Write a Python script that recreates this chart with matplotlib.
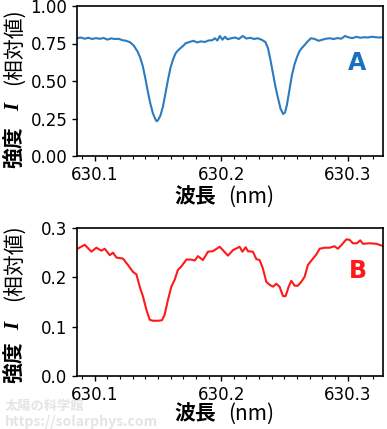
import matplotlib
matplotlib.use("Agg")
import matplotlib.pyplot as plt
from matplotlib.ticker import MultipleLocator

# --- spectrum A (top panel) ---
wl_a = [630.086, 630.089, 630.092, 630.095, 630.098, 630.101, 630.104, 630.107,
        630.110, 630.113, 630.116, 630.119, 630.122, 630.125, 630.128, 630.131,
        630.134, 630.136, 630.138, 630.140, 630.142, 630.144, 630.146, 630.148,
        630.149, 630.150, 630.152, 630.154, 630.156, 630.158, 630.160, 630.162,
        630.164, 630.166, 630.168, 630.170, 630.172, 630.175, 630.178, 630.181,
        630.184, 630.187, 630.190, 630.193, 630.195, 630.197, 630.199, 630.201,
        630.203, 630.205, 630.208, 630.211, 630.214, 630.217, 630.220, 630.223,
        630.226, 630.229, 630.232, 630.235, 630.237, 630.239, 630.241, 630.243,
        630.245, 630.247, 630.249, 630.2505, 630.252, 630.254, 630.256, 630.258,
        630.260, 630.262, 630.264, 630.266, 630.268, 630.271, 630.274, 630.277,
        630.280, 630.283, 630.286, 630.289, 630.292, 630.295, 630.298, 630.301,
        630.304, 630.307, 630.310, 630.313, 630.316, 630.319, 630.322, 630.325,
        630.328]
int_a = [0.785, 0.790, 0.782, 0.788, 0.780, 0.786, 0.781, 0.787,
         0.776, 0.784, 0.780, 0.781, 0.772, 0.768, 0.758, 0.735,
         0.695, 0.655, 0.600, 0.520, 0.430, 0.350, 0.285, 0.245,
         0.232, 0.238, 0.270, 0.330, 0.420, 0.510, 0.590, 0.645,
         0.685, 0.705, 0.720, 0.735, 0.752, 0.760, 0.768, 0.757,
         0.764, 0.760, 0.770, 0.772, 0.785, 0.770, 0.800, 0.775,
         0.795, 0.778, 0.785, 0.790, 0.780, 0.800, 0.783, 0.788,
         0.780, 0.785, 0.775, 0.760, 0.720, 0.640, 0.550, 0.460,
         0.385, 0.315, 0.280, 0.290, 0.340, 0.440, 0.540, 0.610,
         0.660, 0.700, 0.722, 0.740, 0.760, 0.785, 0.780, 0.768,
         0.775, 0.782, 0.785, 0.780, 0.786, 0.782, 0.800, 0.790,
         0.786, 0.795, 0.788, 0.792, 0.790, 0.795, 0.792, 0.790,
         0.792]

# --- spectrum B (bottom panel) ---
wl_b = [630.0858, 630.0921, 630.0974, 630.1013, 630.1053, 630.1079, 630.1119,
        630.1145, 630.1172, 630.1224, 630.1263, 630.1303, 630.1330, 630.1356,
        630.1382, 630.1409, 630.1435, 630.1460, 630.1500, 630.1532, 630.1553,
        630.1579, 630.1606, 630.1632, 630.1658, 630.1685, 630.1725, 630.1764,
        630.1791, 630.1817, 630.1856, 630.1896, 630.1935, 630.1988, 630.2014,
        630.2054, 630.2093, 630.2146, 630.2168, 630.2194, 630.2212, 630.2251,
        630.2278, 630.2304, 630.2330, 630.2357, 630.2383, 630.2410, 630.2436,
        630.2462, 630.2489, 630.2510, 630.2534, 630.2555, 630.2581, 630.2607,
        630.2634, 630.2660, 630.2686, 630.2726, 630.2752, 630.2779, 630.2818,
        630.2858, 630.2897, 630.2923, 630.2950, 630.2990, 630.3016, 630.3042,
        630.3074, 630.3100, 630.3121, 630.3174, 630.3227, 630.3274]
int_b = [0.257, 0.266, 0.252, 0.260, 0.254, 0.258, 0.245,
         0.250, 0.240, 0.238, 0.225, 0.211, 0.206, 0.181,
         0.161, 0.134, 0.114, 0.112, 0.112, 0.113, 0.124,
         0.154, 0.181, 0.195, 0.215, 0.222, 0.236, 0.236,
         0.234, 0.243, 0.235, 0.252, 0.253, 0.262, 0.255,
         0.244, 0.255, 0.262, 0.252, 0.261, 0.253, 0.252,
         0.237, 0.235, 0.218, 0.191, 0.185, 0.181, 0.187,
         0.181, 0.162, 0.162, 0.181, 0.193, 0.183, 0.183,
         0.191, 0.201, 0.225, 0.238, 0.246, 0.258, 0.260,
         0.260, 0.263, 0.258, 0.265, 0.277, 0.276, 0.269,
         0.269, 0.275, 0.268, 0.269, 0.268, 0.264]

W, H = 387, 429
fig = plt.figure(figsize=(W / 100, H / 100), dpi=100)
jp = ['Noto Sans CJK JP', 'DejaVu Sans']


def ftext(x, y, s, **kw):
    """Place text at pixel position (x, y) measured from the top-left corner."""
    fig.text(x / W, 1 - y / H, s, ha='center', va='center', **kw)


def setup_axes(ax, ylim, ystep):
    ax.set_xlim(630.086, 630.328)
    ax.set_ylim(*ylim)
    ax.xaxis.set_major_locator(MultipleLocator(0.1))
    ax.xaxis.set_minor_locator(MultipleLocator(0.01))
    ax.yaxis.set_major_locator(MultipleLocator(ystep))
    ax.tick_params(which='major', direction='out', length=3.5, width=1, labelsize=12)
    ax.tick_params(which='minor', direction='out', length=2, width=0.8)
    for sp in ax.spines.values():
        sp.set_linewidth(1.2)


ax1 = fig.add_axes([77 / W, 1 - 156 / H, 306 / W, 150 / H])
ax1.plot(wl_a, int_a, color='#2a7bbf', lw=1.5)
setup_axes(ax1, (0, 1.0), 0.25)
ax1.yaxis.set_major_formatter(plt.FormatStrFormatter('%.2f'))
ftext(357.5, 63.5, 'A', color='#1a6fc0', fontsize=17, fontweight='bold')

ax2 = fig.add_axes([77 / W, 1 - 376 / H, 306 / W, 148 / H])
ax2.plot(wl_b, int_b, color='#ff1a1a', lw=1.5)
setup_axes(ax2, (0, 0.3), 0.1)
ax2.yaxis.set_major_formatter(plt.FormatStrFormatter('%.1f'))
ftext(358, 270.5, 'B', color='#ff1a1a', fontsize=17, fontweight='bold')

# axis labels (mixed weights, so built from pieces)
for y_kyodo, y_i, y_rel in [(147, 107, 47), (362, 326, 263)]:
    ftext(14, y_kyodo, '強度', rotation=90, fontsize=15, fontweight='bold', family=jp)
    ftext(14, y_i, 'I', rotation=90, fontsize=15, fontweight='bold',
          style='italic', family='Liberation Serif')
    ftext(14, y_rel, '(相対値)', rotation=90, fontsize=15, family=jp)

for y in (197, 414):
    ftext(195, y, '波長', fontsize=15, fontweight='bold', family=jp)
    ftext(251, y, '(nm)', fontsize=15, family=jp)

# site watermark
fig.text(5 / W, 1 - 406 / H, '太陽の科学館', ha='left', va='center', fontsize=9.5,
         color='#e4e4e4', fontweight='bold', family=jp, zorder=0)
fig.text(5 / W, 1 - 422 / H, 'https://solarphys.com', ha='left', va='center',
         fontsize=10, color='#e4e4e4', fontweight='bold', family=jp, zorder=0)

fig.savefig('out.png', dpi=100)
